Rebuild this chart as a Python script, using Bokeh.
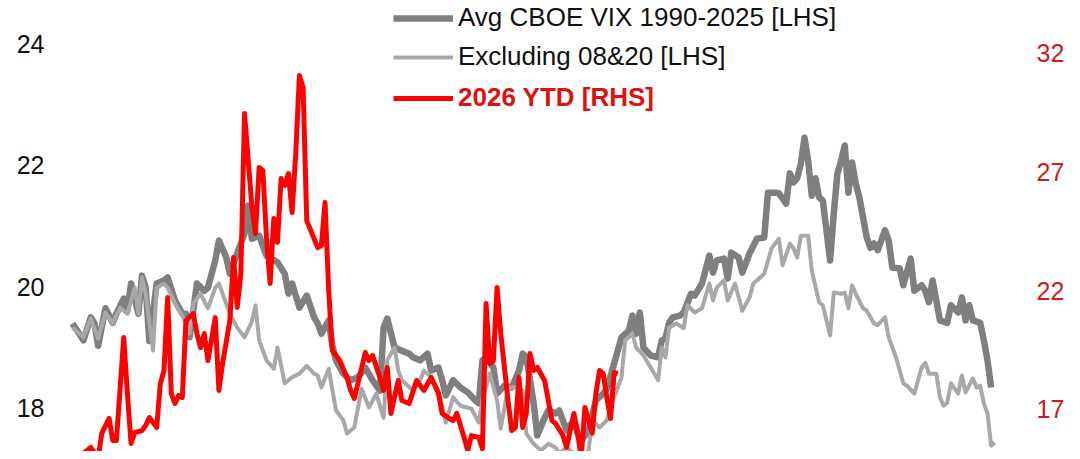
from bokeh.plotting import figure
from bokeh.models import Range1d, LinearAxis, FixedTicker, Legend, LegendItem
from bokeh.embed import file_html
from bokeh.resources import INLINE

# ---- data (trading day of year, VIX level) ----
avg_days = [0, 3, 5, 6, 7, 9, 11, 12, 14, 15, 16, 18, 19, 20, 21, 23, 25, 26, 28, 30,
            31, 32, 34, 36, 37, 39, 40, 42, 43, 45, 47, 48, 49, 51, 53, 56, 58, 59, 60, 62,
            64, 66, 67, 68, 70, 71, 72, 74, 76, 78, 80, 82, 84, 85, 86, 88, 90, 92, 93, 95,
            97, 98, 100, 101, 102, 104, 106, 108, 110, 111, 112, 113, 115, 116, 118, 120, 122, 123, 124, 126,
            127, 129, 130, 132, 133, 135, 137, 138, 139, 141, 143, 145, 146, 148, 150, 152, 153, 154, 155, 156,
            158, 160, 161, 162, 163, 164, 166, 167, 169, 170, 172, 174, 175, 176, 178, 179, 180, 182, 183, 185,
            187, 189, 190, 192, 193, 195, 196, 197, 198, 199, 200, 201, 202, 203, 204, 205, 206, 207, 208, 209,
            210, 211, 212, 213, 214, 215, 217, 218, 219, 220, 222, 223, 224, 226, 227, 229, 230, 232, 233, 234,
            235, 237, 239, 240, 242, 243, 244, 245, 246, 248, 249, 250, 251]
avg_vix = [19.39, 19.11, 19.49, 19.39, 19.02, 19.64, 19.40, 19.55, 19.80, 19.60, 20.05, 19.55, 20.18, 19.98, 19.10, 20.05, 20.10, 20.15, 19.77, 19.55,
           19.55, 19.16, 20.05, 19.93, 19.98, 20.43, 20.76, 20.48, 20.21, 20.55, 20.88, 21.34, 20.79, 20.84, 20.51, 20.40, 20.21, 19.88, 20.05, 19.65,
           19.85, 19.49, 19.39, 19.22, 19.44, 19.02, 18.78, 18.56, 18.45, 18.50, 18.66, 18.45, 18.28, 19.32, 19.47, 18.99, 18.94, 18.89, 18.83, 18.78,
           18.89, 18.61, 18.66, 18.45, 18.20, 18.45, 18.33, 18.25, 18.12, 18.07, 18.78, 18.83, 18.66, 18.23, 18.36, 18.33, 18.61, 18.89, 18.83, 18.07,
           17.54, 17.83, 17.95, 17.90, 17.95, 17.62, 17.79, 17.57, 17.45, 17.62, 18.12, 18.23, 18.31, 18.73, 19.16, 19.27, 19.52, 19.22, 19.57, 18.99,
           18.86, 18.83, 19.11, 19.14, 19.40, 19.49, 19.52, 19.57, 19.88, 19.85, 20.05, 20.51, 20.23, 20.43, 20.46, 20.13, 20.56, 20.48, 20.23, 20.55,
           20.79, 20.81, 21.55, 21.55, 21.54, 21.37, 21.87, 21.72, 21.79, 22.03, 22.46, 22.08, 21.50, 21.79, 21.47, 21.42, 20.93, 20.43, 21.21, 21.87,
           22.08, 22.33, 21.55, 22.05, 21.70, 21.47, 20.81, 20.64, 20.71, 20.60, 20.93, 20.76, 20.31, 20.30, 20.02, 20.46, 19.93, 20.02, 19.93, 19.74,
           20.10, 19.44, 19.40, 19.69, 19.57, 19.82, 19.44, 19.69, 19.44, 19.40, 19.11, 18.78, 18.33]

excl_days = [0, 3, 5, 7, 9, 11, 13, 15, 17, 18, 19, 20, 22, 23, 25, 26, 28, 30, 32, 33,
             35, 37, 39, 40, 41, 43, 45, 47, 49, 50, 51, 53, 55, 56, 58, 60, 62, 64, 66, 67,
             68, 70, 72, 74, 75, 77, 79, 81, 83, 85, 86, 88, 89, 90, 93, 95, 96, 98, 100, 102,
             104, 106, 109, 111, 112, 114, 116, 117, 119, 121, 123, 124, 126, 128, 130, 132, 133, 135, 137, 139,
             141, 142, 144, 146, 148, 150, 151, 153, 154, 156, 158, 160, 161, 162, 163, 165, 167, 168, 170, 172,
             174, 175, 176, 178, 179, 181, 183, 185, 186, 187, 189, 191, 193, 194, 196, 197, 198, 199, 201, 202,
             204, 205, 207, 208, 210, 211, 212, 213, 214, 216, 217, 219, 220, 222, 223, 225, 227, 228, 230, 232,
             233, 234, 236, 237, 238, 239, 240, 242, 243, 244, 246, 247, 248, 249, 250, 251, 252]
excl_vix = [19.32, 19.16, 19.47, 19.14, 19.57, 19.39, 19.65, 19.55, 19.98, 19.55, 20.15, 19.88, 18.94, 19.98, 20.05, 19.98, 19.72, 19.52, 19.22, 19.72,
            19.88, 19.64, 19.98, 20.05, 19.88, 19.55, 19.32, 19.16, 19.42, 19.69, 19.11, 18.78, 18.64, 18.99, 18.40, 18.50, 18.56, 18.69, 18.56, 18.53,
            18.33, 18.64, 17.95, 17.79, 17.57, 17.67, 18.31, 18.00, 18.23, 17.83, 18.78, 18.99, 18.61, 18.45, 18.28, 18.45, 18.61, 18.50, 18.28, 17.75,
            18.17, 18.03, 17.98, 17.75, 18.12, 18.56, 18.12, 17.65, 18.33, 18.33, 18.28, 17.57, 17.40, 17.29, 17.40, 17.34, 17.24, 17.34, 17.24, 17.17,
            17.29, 17.79, 17.67, 17.79, 18.17, 18.50, 19.11, 19.22, 18.99, 18.86, 18.66, 18.45, 18.99, 18.83, 19.32, 19.39, 19.31, 19.69, 19.57, 19.64,
            20.05, 19.77, 19.98, 20.10, 19.77, 20.05, 19.60, 19.82, 20.05, 20.10, 20.21, 20.63, 20.79, 20.35, 20.71, 20.63, 20.48, 20.84, 20.84, 20.26,
            19.74, 19.69, 19.19, 19.90, 19.88, 19.90, 19.64, 20.02, 19.88, 19.64, 19.60, 19.39, 19.36, 19.49, 19.16, 18.83, 18.40, 18.36, 18.23, 18.66,
            18.74, 18.56, 18.56, 18.17, 18.03, 18.08, 18.40, 18.23, 18.53, 18.25, 18.48, 18.33, 18.36, 18.07, 17.90, 17.37, 17.42]

ytd_days = [0, 4, 5, 7, 8, 10, 11, 12, 14, 15, 16, 17, 19, 20, 21, 23, 24, 25, 26, 27,
            28, 29, 30, 31, 33, 34, 35, 36, 37, 39, 40, 41, 43, 44, 45, 46, 47, 49, 50, 51,
            52, 53, 54, 55, 56, 57, 58, 59, 60, 61, 62, 63, 64, 67, 68, 69, 70, 71, 73, 75,
            76, 77, 80, 81, 82, 84, 85, 86, 87, 89, 90, 92, 94, 96, 98, 100, 101, 103, 104, 105,
            107, 108, 109, 111, 112, 113, 114, 115, 116, 117, 119, 120, 121, 122, 123, 124, 125, 126, 127, 129,
            130, 131, 132, 134, 135, 137, 138, 139, 140, 142, 143, 144, 145, 146, 147, 148, 149]
ytd_vix = [14.85, 15.27, 15.40, 14.93, 15.99, 16.62, 15.69, 15.69, 20.03, 17.67, 15.57, 16.03, 16.11, 16.32, 16.66, 16.24, 18.09, 18.64, 21.72, 17.67,
           17.25, 17.59, 17.50, 20.75, 21.04, 20.20, 19.61, 20.20, 19.06, 20.87, 17.80, 18.94, 20.75, 23.40, 21.30, 22.73, 29.47, 25.59, 24.41, 27.20,
           27.07, 24.25, 22.31, 25.05, 24.04, 26.73, 26.44, 26.94, 25.30, 27.79, 31.07, 30.57, 24.96, 23.82, 23.91, 25.72, 22.01, 19.48, 19.06, 18.35,
           17.80, 17.46, 19.40, 19.06, 19.27, 18.35, 17.80, 18.77, 16.83, 18.22, 17.38, 17.25, 18.22, 17.80, 18.35, 17.67, 16.83, 16.62, 16.53, 16.83,
           15.82, 15.27, 15.90, 15.82, 15.35, 21.46, 18.94, 19.06, 22.14, 20.20, 17.38, 16.11, 16.24, 18.35, 16.24, 16.83, 19.36, 18.64, 18.77, 18.22,
           17.38, 16.53, 16.41, 15.90, 15.40, 16.83, 16.00, 14.98, 17.08, 16.00, 17.67, 18.64, 18.51, 17.50, 16.62, 18.56, 18.51]

lhs_ticks = [18, 20, 22, 24]
rhs_ticks = [17, 22, 27, 32]
series_labels = ["Avg CBOE VIX 1990-2025 [LHS]", "Excluding 08&20 [LHS]", "2026 YTD [RHS]"]

FONT = "Liberation Sans"
DARK = "#7f7f7f"
LIGHT = "#a8a8a8"
RED = "#ff0000"

p = figure(width=1072, height=451, output_backend="svg", toolbar_location=None,
           x_range=Range1d(-3.28, 258.47), y_range=Range1d(17.273, 24.727),
           x_axis_type=None, min_border_left=60, min_border_right=54,
           min_border_top=0, min_border_bottom=0)
p.extra_y_ranges = {"rhs": Range1d(15.228, 34.233)}
p.outline_line_color = None
p.xgrid.visible = False
p.ygrid.visible = False
p.background_fill_color = "white"
p.border_fill_color = "white"

ax = p.yaxis[0]
ax.ticker = FixedTicker(ticks=lhs_ticks)
ax.axis_line_color = None
ax.major_tick_line_color = None
ax.minor_tick_line_color = None
ax.major_label_text_font = FONT
ax.major_label_text_font_size = "25px"
ax.major_label_text_color = "#111111"
ax.major_label_standoff = 10

rax = LinearAxis(y_range_name="rhs", ticker=FixedTicker(ticks=rhs_ticks))
rax.axis_line_color = None
rax.major_tick_line_color = None
rax.minor_tick_line_color = None
rax.major_label_text_font = FONT
rax.major_label_text_font_size = "25px"
rax.major_label_text_color = "#d01c1c"
rax.major_label_standoff = 12
p.add_layout(rax, "right")

r_avg = p.line(avg_days, avg_vix, line_color=DARK, line_width=6.5, line_join="round")
r_excl = p.line(excl_days, excl_vix, line_color=LIGHT, line_width=4, line_join="round")
r_ytd = p.line(ytd_days, ytd_vix, line_color=RED, line_width=5, line_join="round",
               y_range_name="rhs")

# legend rows: (label, renderer, text colour, style, bottom offset from frame bottom)
legend_specs = [
    (series_labels[0], r_avg, "#111111", "normal", 418),
    (series_labels[1], r_excl, "#111111", "normal", 379),
    (series_labels[2], r_ytd, "#e01010", "bold", 338),
]
for label, rend, color, style, ybot in legend_specs:
    lg = Legend(items=[LegendItem(label=label, renderers=[rend])],
                location=(333, ybot), padding=0, margin=0, spacing=0,
                glyph_width=60, glyph_height=30, label_height=30, label_standoff=5,
                label_text_font=FONT, label_text_font_size="26px",
                label_text_color=color, label_text_font_style=style,
                border_line_alpha=0, background_fill_alpha=0)
    p.add_layout(lg)

open("out.html", "w").write(file_html(p, INLINE))
